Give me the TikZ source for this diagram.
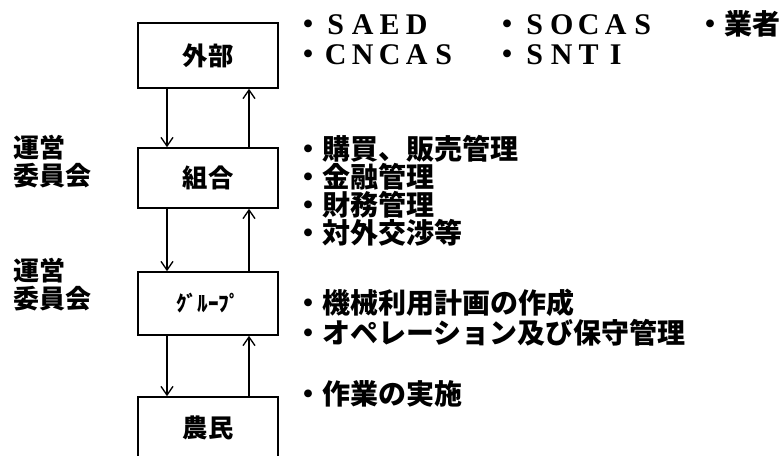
\documentclass[tikz,border=0pt]{standalone}
\usepackage{fontspec}
\usetikzlibrary{arrows.meta}
\newfontfamily\jpf{Noto Sans CJK JP}
\newfontfamily\latf{Liberation Serif}
\newcommand\ltr[1]{\makebox[20.25pt]{#1}}
\newcommand\jbul{{\jpf\bfseries\fontsize{21pt}{21pt}\selectfont ・}}
\begin{document}
\begin{tikzpicture}[x=0.75pt,y=-0.75pt,
  box/.style={draw, line width=1.2pt, minimum width=105pt, inner sep=0pt,
    font=\jpf\bfseries\fontsize{19pt}{19pt}\selectfont},
  flow/.style={line width=1.2pt, -{Straight Barb[length=6.5pt,width=9pt,line width=1pt]}},
  item/.style={anchor=west, inner sep=0pt, font=\jpf\bfseries\fontsize{21pt}{21pt}\selectfont},
  side/.style={anchor=west, inner sep=0pt, align=left,
    font=\jpf\bfseries\fontsize{19.5pt}{21pt}\selectfont},
  latin/.style={anchor=base west, inner sep=0pt, font=\latf\bfseries\fontsize{22.5pt}{22.5pt}\selectfont}]
\useasboundingbox (0,0) rectangle (779,455);
\clip (0,0) rectangle (779,455);
\fill[white] (0,0) rectangle (779,455);

% boxes
\node[box, minimum height=48.75pt] (ext) at (208,55.5) {外部};
\node[box, minimum height=45pt] (coop) at (208,178) {組合};
\node[box, minimum height=47.25pt, font=\jpf\bfseries\fontsize{16pt}{16pt}\selectfont] (grp) at (208,303.5) {ｸﾞﾙｰﾌﾟ};
\node[box, minimum height=46.5pt] (farm) at (208,428) {農民};

% connectors
\draw[flow] ([xshift=-30.75pt]ext.south) -- ([xshift=-30.75pt]coop.north);
\draw[flow] ([xshift=30.75pt]coop.north) -- ([xshift=30.75pt]ext.south);
\draw[flow] ([xshift=-30.75pt]coop.south) -- ([xshift=-30.75pt]grp.north);
\draw[flow] ([xshift=30.75pt]grp.north) -- ([xshift=30.75pt]coop.south);
\draw[flow] ([xshift=-30.75pt]grp.south) -- ([xshift=-30.75pt]farm.north);
\draw[flow] ([xshift=30.75pt]farm.north) -- ([xshift=30.75pt]grp.south);

% left labels
\node[side] (m1) at (13,162) {運営\\委員会};
\node[side] (m2) at (13,285) {運営\\委員会};

% external members
\node[latin] (saed) at (294,34) {\jbul\ltr{S}\ltr{A}\ltr{E}\ltr{D}};
\node[latin] (cncas) at (294,64) {\jbul\ltr{C}\ltr{N}\ltr{C}\ltr{A}\ltr{S}};
\node[latin] (socas) at (493,34) {\jbul\ltr{S}\ltr{O}\ltr{C}\ltr{A}\ltr{S}};
\node[latin] (snti) at (493,64) {\jbul\ltr{S}\ltr{N}\ltr{T}\ltr{I}};
\node[item] (gyosha) at (696,24) {・業者};

% cooperative tasks
\node[item] (t1) at (294,149) {・購買、販売管理};
\node[item] (t2) at (294,177) {・金融管理};
\node[item] (t3) at (294,205) {・財務管理};
\node[item] (t4) at (294,233) {・対外交渉等};

% group tasks
\node[item] (g1) at (294,303) {・機械利用計画の作成};
\node[item] (g2) at (294,333) {・オペレーション及び保守管理};

% farmer tasks
\node[item] (f1) at (294,394) {・作業の実施};
\end{tikzpicture}
\end{document}
